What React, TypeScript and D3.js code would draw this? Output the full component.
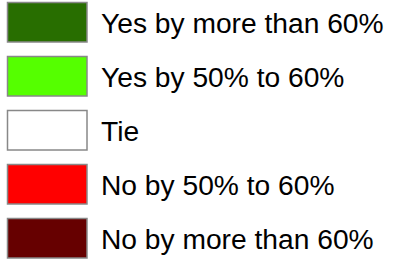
import React from "react";
import * as d3 from "d3";

const labels = [
  "Yes by more than 60%",
  "Yes by 50% to 60%",
  "Tie",
  "No by 50% to 60%",
  "No by more than 60%",
];
const colors = ["#286e00", "#55ff00", "#ffffff", "#ff0000", "#660000"];

export default function App() {
  const W = 401, H = 264;
  const yPos = d3.scaleLinear().domain([0, labels.length - 1]).range([2, 218]);
  return (
    <svg width={W} height={H} style={{ position: "absolute", left: 0, top: 0 }}>
      {labels.map((l, i) => (
        <g key={i} transform={`translate(0,${yPos(i)})`}>
          <rect x={7.5} y={0.5} width={79.5} height={39.5} fill={colors[i]} stroke="#888" strokeWidth={1.5} />
          <text x={101} y={30.8} fontFamily="Liberation Sans, Arial, sans-serif" fontSize={28.2} fill="#000">
            {l}
          </text>
        </g>
      ))}
    </svg>
  );
}
